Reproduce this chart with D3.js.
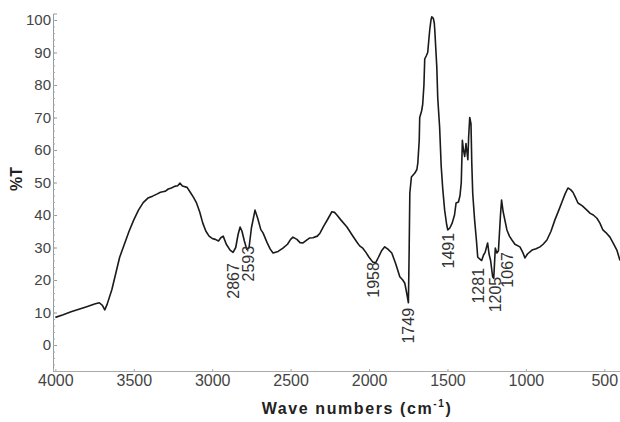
<!DOCTYPE html>
<html><head><meta charset="utf-8">
<script src="https://cdn.jsdelivr.net/npm/d3@7"></script>
<style>body{margin:0;background:#fff}svg{display:block}text{font-family:"Liberation Sans",Arial,sans-serif}</style>
</head><body><svg id="c" width="620" height="422"></svg>
<script>
const wavenumbers = [4000,3950,3900,3850,3800,3750,3720,3700,3685,3670,3640,3610,3590,3560,3530,3500,3470,3440,3410,3380,3350,3330,3300,3280,3260,3240,3220,3205,3190,3160,3140,3120,3100,3080,3060,3040,3020,3000,2980,2960,2945,2930,2910,2886,2867,2850,2835,2822,2810,2795,2780,2765,2750,2727,2710,2690,2676,2650,2630,2612,2580,2549,2520,2500,2485,2460,2440,2421,2400,2380,2358,2330,2313,2290,2260,2237,2220,2205,2180,2141,2110,2078,2060,2040,2020,2000,1976,1958,1940,1920,1900,1880,1855,1830,1804,1785,1772,1760,1749,1744,1740,1730,1708,1695,1689,1680,1677,1665,1658,1650,1645,1635,1626,1613,1605,1600,1590,1584,1581,1568,1562,1550,1540,1530,1518,1505,1498,1485,1470,1455,1445,1430,1420,1412,1405,1398,1390,1382,1370,1365,1358,1350,1345,1339,1327,1315,1307,1295,1282,1270,1260,1244,1235,1225,1212,1205,1195,1185,1175,1162,1155,1145,1121,1105,1089,1070,1038,1020,1006,990,961,935,910,890,866,840,815,790,770,750,732,715,700,685,668,640,611,590,570,547,528,509,490,464,445,420,400];
const transmittance = [8.5,9.3,10.2,11.0,11.8,12.6,13.0,12.2,10.8,12.5,17,23,27,31,35,38.5,41.5,43.8,45.2,45.8,46.5,47,47.3,48,48.3,48.8,49,49.8,48.9,48.5,47,45.5,43.7,41,37.5,35,33.5,32.8,32.5,32,33,33.5,31,29.2,28.5,30,34,36.3,35,32,29.5,30,36,41.5,39,35.5,34.5,31.5,29.5,28.3,28.8,29.8,31,32.5,33.2,32.5,31.5,31.4,32.2,32.9,33,33.5,34.4,36.5,39,41,40.8,40,38.5,36.3,34,31.7,30.5,29.8,28.5,27,25.5,25.3,27,29,30.2,29.5,28.3,25,21,20,19,16,13,30,46.7,51.7,52.9,54,56,63,70,72,74,80,88,89,90,97,100,101,100.5,99,97,85.5,76,67,55,48,41.5,37,35.4,36,37.5,40,43.7,44,46,50,63,60,58,62,57,64,70,68,56,46.7,38.5,32,27,26.5,26,27.7,28.5,31.4,28,26,21,20.5,29.8,28.3,29,40,44.6,41,35.4,33.5,32.3,31,30.2,28.5,26.8,28,29.2,29.6,30.2,31,32.3,35,38.5,41.5,44,46.5,48.3,47.8,47,45.5,43.7,42.8,41.5,40.5,40,39,37.5,35.4,34.6,33.2,31.5,29.2,26];
const peakLabels = ["2867","2593","1958","1749","1491","1281","1205","1067"];
const peakLabelWave = [2867,2771,1972,1752,1497,1306,1197,1121];
const peakLabelTop = [25.2,30.5,25.5,11.4,34.5,23.7,21,28.6];
const xTicks = [4000,3500,3000,2500,2000,1500,1000,500];
const yTicks = [0,10,20,30,40,50,60,70,80,90,100];

const svg = d3.select("#c");
const x = d3.scaleLinear().domain([4015,400]).range([53,620]);
const y = d3.scaleLinear().domain([-8,102]).range([371,13.5]);

// y axis
const ya = svg.append("g").attr("transform","translate(53,0)")
  .call(d3.axisLeft(y).tickValues(yTicks).tickSize(-4).tickPadding(2));
ya.select(".domain").attr("stroke","#999");
ya.selectAll(".tick line").attr("stroke","#999");
ya.selectAll("text").attr("font-size",15).attr("fill","#444").attr("font-family","Liberation Sans, Arial, sans-serif");
const ym = svg.append("g").attr("transform","translate(53,0)")
  .call(d3.axisLeft(y).tickValues(d3.range(-8,102,2)).tickSize(-2).tickFormat(""));
ym.select(".domain").remove();
ym.selectAll(".tick line").attr("stroke","#aaa");

// x axis
const xa = svg.append("g").attr("transform","translate(0,371)")
  .call(d3.axisBottom(x).tickValues(xTicks).tickSize(-2).tickPadding(4).tickFormat(d3.format("d")));
xa.select(".domain").attr("stroke","#aaa");
xa.selectAll(".tick line").attr("stroke","#aaa");
xa.selectAll("text").attr("font-size",16).attr("fill","#444").attr("font-family","Liberation Sans, Arial, sans-serif");

// line
const line = d3.line().x((d,i)=>x(wavenumbers[i])).y(d=>y(d));
svg.append("path").datum(transmittance).attr("d",line)
  .attr("fill","none").attr("stroke","#1a1a1a").attr("stroke-width",1.6).attr("stroke-linejoin","round");

// peak labels
peakLabels.forEach((t,i)=>{
  const px = x(peakLabelWave[i]), py = y(peakLabelTop[i]);
  svg.append("text").attr("transform",`translate(${px},${py}) rotate(-90)`)
    .attr("text-anchor","end").attr("dy","0.35em")
    .attr("font-size",16).attr("fill","#333").text(t);
});

// axis titles
svg.append("text").attr("transform","translate(22,179) rotate(-90)")
  .attr("text-anchor","middle").attr("font-size",16).attr("font-weight","bold").attr("fill","#222").text("%T");
const xt = svg.append("text").attr("x",357).attr("y",414).attr("text-anchor","middle")
  .attr("font-size",16).attr("font-weight","bold").attr("fill","#222").attr("letter-spacing","1.6px");
xt.append("tspan").text("Wave numbers (cm");
xt.append("tspan").attr("font-size",10).attr("dy",-7).text("-1");
xt.append("tspan").attr("dy",7).text(")");
</script></body></html>
